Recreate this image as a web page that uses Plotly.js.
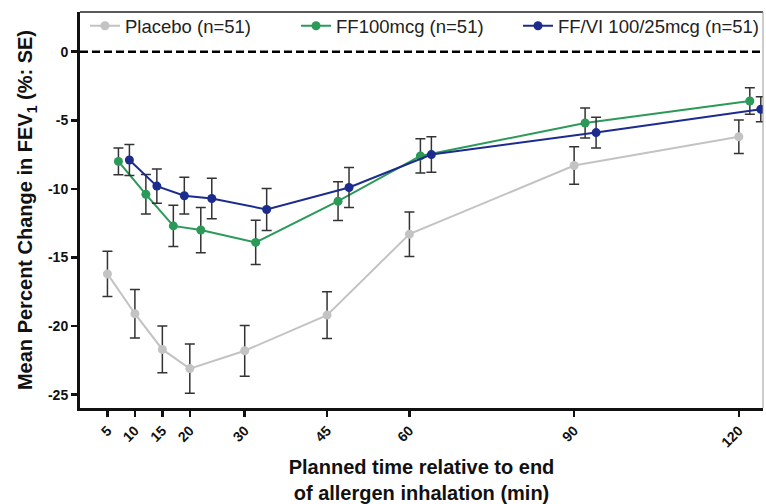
<!DOCTYPE html>
<html>
<head>
<meta charset="utf-8">
<script src="https://cdn.plot.ly/plotly-3.0.1.min.js"></script>
<style>html,body{margin:0;padding:0;background:#fff;}#chart{width:766px;height:504px;}</style>
</head>
<body>
<div id="chart"></div>
<script>
const times = [5, 10, 15, 20, 30, 45, 60, 90, 120];
const timeLabels = ['5', '10', '15', '20', '30', '45', '60', '90', '120'];
const placebo = [-16.2, -19.1, -21.7, -23.1, -21.8, -19.2, -13.3, -8.3, -6.2];
const placeboSE = [1.65, 1.77, 1.71, 1.8, 1.85, 1.71, 1.62, 1.37, 1.22];
const ff100 = [-8.0, -10.4, -12.7, -13.0, -13.9, -10.9, -7.6, -5.2, -3.6];
const ff100SE = [0.98, 1.44, 1.5, 1.65, 1.62, 1.41, 1.25, 1.09, 0.97];
const ffvi = [-7.9, -9.8, -10.5, -10.7, -11.5, -9.9, -7.5, -5.9, -4.2];
const ffviSE = [1.13, 1.24, 1.34, 1.48, 1.53, 1.46, 1.29, 1.12, 0.91];
const yTickVals = [0, -5, -10, -15, -20, -25];
const yTickText = ['0', '-5', '-10', '-15', '-20', '-25'];
const seriesNames = ['Placebo (n=51)', 'FF100mcg (n=51)', 'FF/VI 100/25mcg (n=51)'];

const dodge = [0, 2, 4];
const colors = ['#c3c3c3', '#2b9a58', '#1c2c8e'];
const vals = [placebo, ff100, ffvi];
const ses = [placeboSE, ff100SE, ffviSE];
const legendIds = ['legend', 'legend2', 'legend3'];
const legendX = [0.0073, 0.3163, 0.6413];

const FONT = '"Liberation Sans", Arial, sans-serif';

const traces = vals.map((v, i) => ({
  type: 'scatter',
  mode: 'lines+markers',
  name: seriesNames[i],
  legend: legendIds[i],
  x: times.map(t => t + dodge[i]),
  y: v,
  line: {color: colors[i], width: 2},
  marker: {color: colors[i], size: 9},
  error_y: {type: 'data', array: ses[i], visible: true, color: '#333', thickness: 1.5, width: 5}
}));

function legendObj(x) {
  return {
    orientation: 'h', x: x, y: 1.012, xanchor: 'left', yanchor: 'top',
    font: {size: 18.5, family: FONT, color: '#222'}, bgcolor: 'rgba(0,0,0,0)',
    itemwidth: 30
  };
}

const layout = {
  width: 766, height: 504,
  margin: {l: 80, r: 3, t: 12, b: 96, autoexpand: false},
  paper_bgcolor: '#fff', plot_bgcolor: '#fff',
  font: {family: FONT, color: '#111'},
  showlegend: true,
  legend: legendObj(legendX[0]),
  legend2: legendObj(legendX[1]),
  legend3: legendObj(legendX[2]),
  xaxis: {
    range: [0, 124.4], tickvals: times, ticktext: timeLabels, tickangle: -45,
    showgrid: false, zeroline: false, showline: true, linewidth: 3, linecolor: '#111',
    ticks: 'outside', ticklen: 6, tickwidth: 2.5, tickcolor: '#111',
    tickfont: {size: 14, family: FONT, weight: 'bold', color: '#111'},
    title: {text: '<b>Planned time relative to end<br>of allergen inhalation (min)</b>', font: {size: 20, family: FONT, color: '#111'}, standoff: 18}
  },
  yaxis: {
    range: [-25.97, 2.89], tickvals: yTickVals, ticktext: yTickText,
    showgrid: false, zeroline: false, showline: true, linewidth: 3, linecolor: '#111',
    ticks: 'outside', ticklen: 6, tickwidth: 2.5, tickcolor: '#111',
    tickfont: {size: 14, family: FONT, weight: 'bold', color: '#111'},
    title: {text: '<b>Mean Percent Change in FEV<sub>1</sub> (%: SE)</b>', font: {size: 20, family: FONT, color: '#111'}, standoff: 10}
  },
  shapes: [
    {type: 'line', xref: 'paper', yref: 'y', x0: 0, x1: 1, y0: 0, y1: 0, line: {color: '#000', width: 2.5, dash: '8px,4px'}},
    {type: 'line', xref: 'paper', yref: 'paper', x0: 0, x1: 1, y0: 1, y1: 1, line: {color: '#222', width: 1.5}},
    {type: 'line', xref: 'paper', yref: 'paper', x0: 1, x1: 1, y0: 0, y1: 1, line: {color: '#999', width: 1}}
  ]
};

Plotly.newPlot('chart', traces, layout, {displayModeBar: false, staticPlot: true});
</script>
</body>
</html>
